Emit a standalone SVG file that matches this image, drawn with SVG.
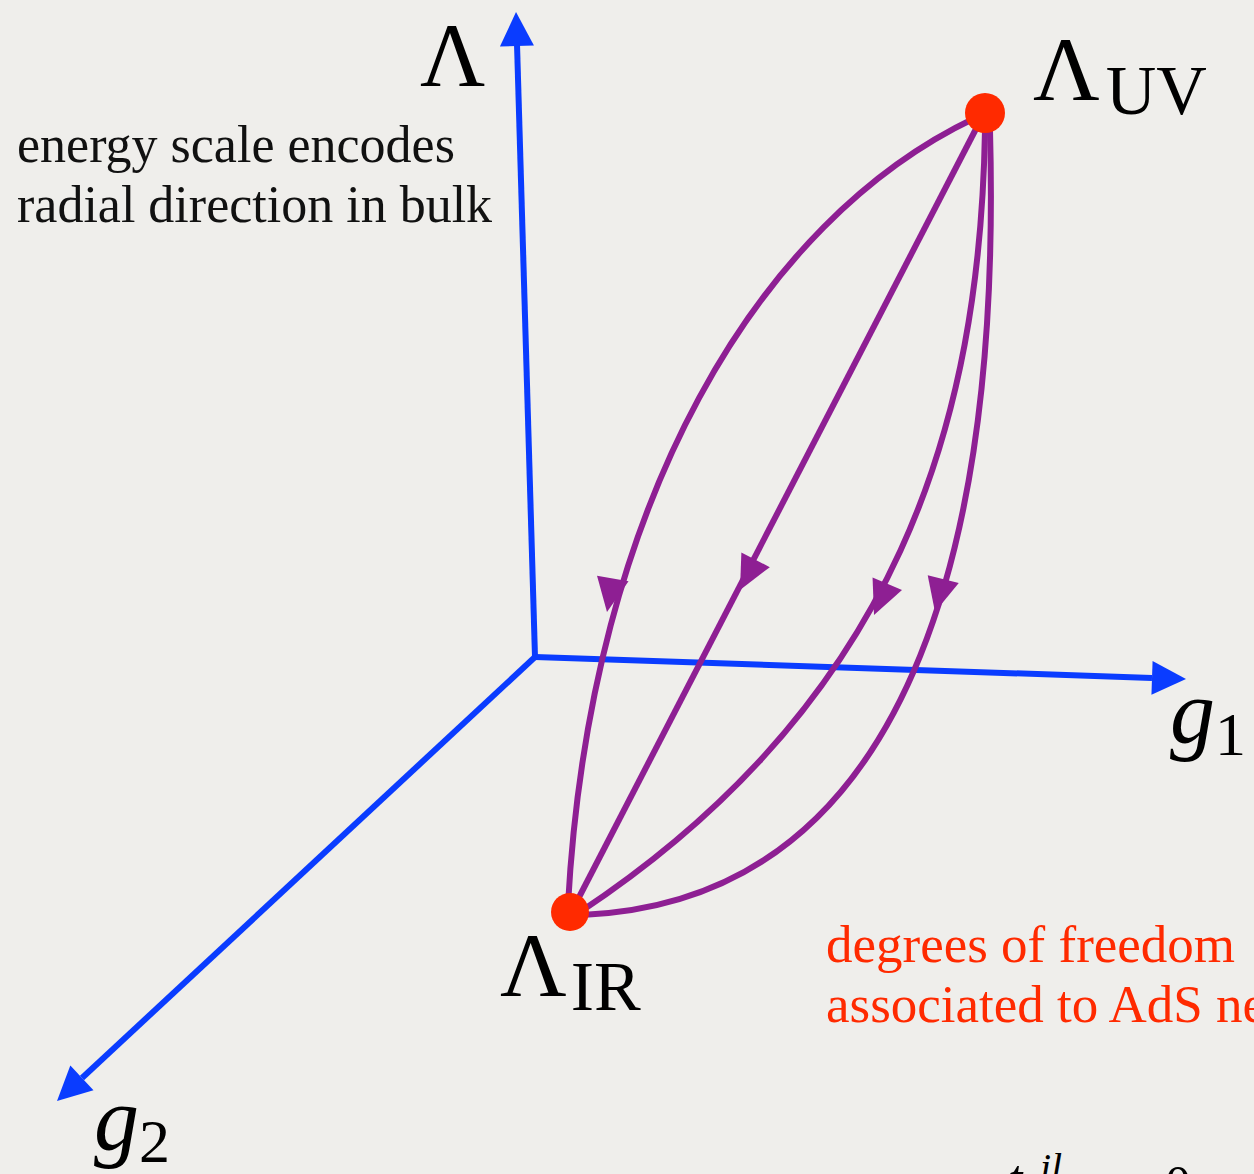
<svg xmlns="http://www.w3.org/2000/svg" width="1254" height="1174" viewBox="0 0 1254 1174">
<defs>
<style>
.axis{stroke:#0a3cff;stroke-width:6;fill:none}
.flow{stroke:#8e1f93;stroke-width:6;fill:none}
.ahb{fill:#0a3cff}
.ahp{fill:#8e1f93}
.dot{fill:#ff2a00}
.math{font-family:"Liberation Serif","DejaVu Serif",serif;fill:#000}
.mi{font-style:italic}
.note{font-family:"Liberation Serif","DejaVu Serif",serif;font-size:52px;fill:#111}
.red{font-family:"Liberation Serif","DejaVu Serif",serif;font-size:53px;fill:#ff2a00}
</style>
<path id="tri" d="M0,0 L-34,-17 L-34,17 Z"/>
<path id="ptri" d="M0,0 L-34,-16 L-34,16 Z"/>
</defs>
<rect width="1254" height="1174" fill="#efeeeb"/>
<g id="connectors">
<g id="axes">
<path class="axis" d="M535,657 L517,44"/>
<use href="#tri" class="ahb" transform="translate(516,12) rotate(-91.6)"/>
<path class="axis" d="M535,657 L1152,678"/>
<use href="#tri" class="ahb" transform="translate(1186,679) rotate(1.9)"/>
<path class="axis" d="M535,657 L82,1078"/>
<use href="#tri" class="ahb" transform="translate(57,1101) rotate(137.1)"/>
</g>
<g id="flows">
<path class="flow" d="M975,118 C760,220 590,500 568,905"/>
<use href="#ptri" class="ahp" transform="translate(607,612) rotate(99.8)"/>
<path class="flow" d="M978,125 L575,905"/>
<use href="#ptri" class="ahp" transform="translate(740,590) rotate(117.3)"/>
<path class="flow" d="M985,130 C980,420 900,700 580,912"/>
<use href="#ptri" class="ahp" transform="translate(874,615) rotate(113)"/>
<path class="flow" d="M990,130 C1000,500 930,900 582,915"/>
<use href="#ptri" class="ahp" transform="translate(935,612) rotate(104)"/>
</g>
</g>
<g id="node-uv">
<circle class="dot" cx="985" cy="113" r="20"/>
<text class="math" x="1033" y="100" font-size="92">Λ<tspan font-size="70" dx="6" dy="14">UV</tspan></text>
</g>
<g id="node-ir">
<circle class="dot" cx="570" cy="912" r="19"/>
<text class="math" x="500" y="996" font-size="92">Λ<tspan font-size="70" dx="4" dy="14">IR</tspan></text>
</g>
<g id="label-lambda">
<text class="math" x="420" y="86" font-size="90">Λ</text>
</g>
<g id="label-g1">
<text class="math" x="1170" y="743"><tspan class="mi" font-size="90">g</tspan><tspan font-size="62" dy="12">1</tspan></text>
</g>
<g id="label-g2">
<text class="math" x="94" y="1150"><tspan class="mi" font-size="90">g</tspan><tspan font-size="62" dy="12">2</tspan></text>
</g>
<g id="note-energy">
<text class="note" x="17" y="162">energy scale encodes</text>
<text class="note" x="17" y="222">radial direction in bulk</text>
</g>
<g id="note-dof">
<text class="red" x="826" y="962">degrees of freedom</text>
<text class="red" x="826" y="1022">associated to AdS ne</text>
</g>
<g id="cut-eq">
<text class="math mi" x="1008" y="1196" font-size="52">t</text>
<text class="math mi" x="1040" y="1181" font-size="40">il</text>
<text class="math" x="1165" y="1202" font-size="52">0</text>
</g>
</svg>
